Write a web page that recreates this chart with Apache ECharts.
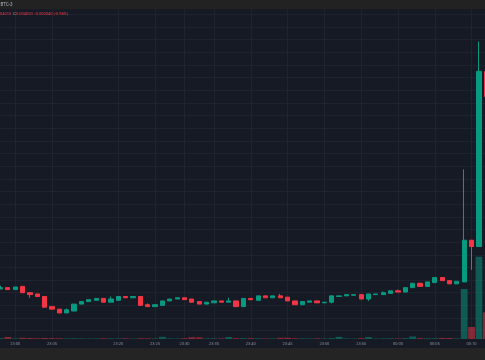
<!DOCTYPE html>
<html><head><meta charset="utf-8">
<script src="https://cdn.jsdelivr.net/npm/echarts@6/dist/echarts.min.js"></script>
<style>html,body{margin:0;padding:0;background:#161a25;}#c{width:485px;height:360px;}</style>
</head><body><div id="c"></div>
<script>
// Candle times (1-minute bars, some minutes without trades)
const times = ['22:58','22:59','23:00','23:01','23:02','23:03','23:04','23:05','23:06','23:07','23:08','23:09','23:12','23:13','23:17','23:18',
'23:20','23:21','23:22','23:23','23:24','23:25','23:26','23:27','23:29','23:30','23:31','23:33','23:34','23:35','23:36','23:37','23:38','23:39',
'23:40','23:41','23:42','23:43','23:44','23:45','23:46','23:47','23:48','23:49','23:50','23:51','23:52','23:53','23:54','23:55','23:56','23:57','23:58','23:59',
'00:00','00:01','00:02','00:03','00:04','00:05','00:06','00:07','00:08','00:09','00:10','00:11','00:12'];
// Labelled time ticks
const tickLabels = ['23:00','23:05','23:20','23:25','23:30','23:35','23:40','23:45','23:50','23:55','00:00','00:05','00:10'];
const opens = [0.003746,0.003748,0.003745,0.003750,0.003740,0.003738,0.003734,0.003718,0.003714,0.003708,0.003711,0.003722,0.003726,0.003728,0.003731,0.003725,
0.003728,0.003734,0.003732,0.003734,0.003721,0.003718,0.003720,0.003727,0.003730,0.003732,0.003730,0.003726,0.003722,0.003724,0.003727,0.003725,0.003727,0.003718,
0.003731,0.003728,0.003735,0.003732,0.003735,0.003733,0.003727,0.003721,0.003725,0.003727,0.003724,0.003725,0.003734,0.003735,0.003736,0.003737,0.003730,0.003737,0.003737,0.003739,
0.003743,0.003741,0.003748,0.003755,0.003750,0.003756,0.003764,0.003759,0.003754,0.003757,0.003823,0.003813,0.004090];
const closes = [0.003748,0.003745,0.003749,0.003740,0.003737,0.003734,0.003717,0.003714,0.003708,0.003713,0.003722,0.003726,0.003729,0.003731,0.003725,0.003730,
0.003734,0.003732,0.003734,0.003720,0.003718,0.003721,0.003727,0.003730,0.003732,0.003729,0.003725,0.003722,0.003725,0.003727,0.003725,0.003727,0.003718,0.003731,
0.003729,0.003735,0.003732,0.003735,0.003732,0.003727,0.003721,0.003726,0.003727,0.003724,0.003725,0.003735,0.003735,0.003737,0.003737,0.003730,0.003738,0.003738,0.003740,0.003743,
0.003741,0.003748,0.003755,0.003750,0.003757,0.003764,0.003759,0.003754,0.003758,0.003823,0.003813,0.004090,0.004050];
const lows = [0.003746,0.003745,0.003745,0.003740,0.003732,0.003734,0.003717,0.003714,0.003708,0.003708,0.003711,0.003722,0.003726,0.003728,0.003725,0.003725,
0.003728,0.003732,0.003732,0.003720,0.003718,0.003718,0.003720,0.003727,0.003730,0.003729,0.003724,0.003722,0.003722,0.003724,0.003725,0.003725,0.003718,0.003718,
0.003728,0.003728,0.003732,0.003732,0.003732,0.003727,0.003721,0.003721,0.003725,0.003724,0.003724,0.003723,0.003734,0.003735,0.003736,0.003730,0.003727,0.003737,0.003737,0.003739,
0.003741,0.003741,0.003748,0.003750,0.003750,0.003756,0.003759,0.003754,0.003754,0.003757,0.003776,0.003813,0.004010];
const highs = [0.003751,0.003748,0.003749,0.003750,0.003740,0.003738,0.003734,0.003718,0.003714,0.003715,0.003722,0.003726,0.003729,0.003731,0.003731,0.003734,
0.003734,0.003734,0.003734,0.003734,0.003723,0.003721,0.003727,0.003730,0.003732,0.003732,0.003730,0.003726,0.003725,0.003727,0.003727,0.003732,0.003727,0.003731,
0.003731,0.003735,0.003735,0.003735,0.003738,0.003733,0.003727,0.003726,0.003727,0.003727,0.003725,0.003736,0.003735,0.003737,0.003737,0.003737,0.003738,0.003738,0.003742,0.003743,
0.003745,0.003748,0.003755,0.003755,0.003757,0.003764,0.003764,0.003759,0.003758,0.003935,0.003823,0.004137,0.004090];
const volumes = [8,20,6,12,10,8,10,9,8,6,7,6,5,6,7,6,
6,7,5,8,7,6,22,6,5,8,18,16,6,7,6,20,9,8,
9,7,6,6,12,12,8,6,6,7,5,8,22,6,5,8,20,5,6,7,
6,8,25,9,7,8,10,10,6,500,120,823,267];

const UP = '#089981', DOWN = '#f23645';
const candleData = opens.map((o, i) => [o, closes[i], lows[i], highs[i]]);
const volData = volumes.map((v, i) => ({
  value: v,
  itemStyle: { color: closes[i] >= opens[i] ? 'rgba(8,153,129,0.5)' : 'rgba(242,54,69,0.5)' }
}));
const lastClose = closes[closes.length - 1];
const isTick = (idx, val) => tickLabels.indexOf(val) >= 0;

const chart = echarts.init(document.getElementById('c'), null, { renderer: 'canvas' });
chart.setOption({
  animation: false,
  backgroundColor: '#161a25',
  grid: [
    { left: 0.49, width: 485.81, top: 1.75, height: 341.55, outerBoundsMode: 'none', containLabel: false },
    { left: 0.49, width: 485.81, top: 239, height: 100, outerBoundsMode: 'none', containLabel: false }
  ],
  xAxis: [
    { type: 'category', gridIndex: 0, data: times, boundaryGap: false,
      axisLine: { show: false }, axisTick: { show: false }, axisLabel: { show: false },
      splitLine: { show: true, interval: isTick, lineStyle: { color: '#1f2330', width: 1 } } },
    { type: 'category', gridIndex: 1, data: times, boundaryGap: false, z: 200,
      axisLine: { show: false }, axisTick: { show: false },
      axisLabel: { show: true, interval: isTick, color: '#8a8e99', fontSize: 4, fontFamily: 'Roboto', margin: 2.5 },
      splitLine: { show: false } }
  ],
  yAxis: [
    { type: 'value', gridIndex: 0, min: 0.00366, max: 0.00420, interval: 0.00002, position: 'right', scale: true,
      axisLine: { show: false }, axisTick: { show: false }, axisLabel: { show: false },
      splitLine: { show: true, lineStyle: { color: '#1f2330', width: 1 } } },
    { type: 'value', gridIndex: 1, min: 0, max: 1000, show: false, splitLine: { show: false } }
  ],
  series: [
    { type: 'bar', xAxisIndex: 1, yAxisIndex: 1, data: volData, barWidth: 6.8, z: 1 },
    { type: 'candlestick', xAxisIndex: 0, yAxisIndex: 0, data: candleData, barWidth: 4.7, z: 3,
      itemStyle: { color: UP, color0: DOWN, borderColor: UP, borderColor0: DOWN, borderWidth: 1 },
      markLine: { silent: true, symbol: 'none', z: 1, label: { show: false },
        lineStyle: { color: 'rgba(242,54,69,0.25)', type: 'solid', width: 1 },
        data: [{ yAxis: lastClose }] } }
  ],
  graphic: [
    { type: 'rect', z: 100, shape: { x: 0, y: 0, width: 485, height: 9.3 }, style: { fill: '#222222' } },
    { type: 'rect', z: 100, shape: { x: 0, y: 339, width: 485, height: 9 }, style: { fill: '#161a25' } },
    { type: 'rect', z: 100, shape: { x: 0, y: 348, width: 485, height: 12 }, style: { fill: '#242424' } },
    { type: 'text', z: 101, x: 0.5, y: 4.7, style: { text: 'BTC-3', fill: '#b2b5be', fontSize: 4.5, fontFamily: 'Roboto', verticalAlign: 'middle' } },
    { type: 'text', z: 101, x: -7.7, y: 14, style: {
        text: '{g|L}{r|0.004010}  {g|C}{r|0.004050}  {r|-0.000040 (-0.98%)}',
        verticalAlign: 'middle', fontFamily: 'Roboto', fontSize: 4,
        rich: { g: { fill: '#b2b5be', fontSize: 4, fontFamily: 'Roboto' }, r: { fill: '#f23645', fontSize: 4, fontFamily: 'Roboto' } } } }
  ]
});
</script>
</body></html>
